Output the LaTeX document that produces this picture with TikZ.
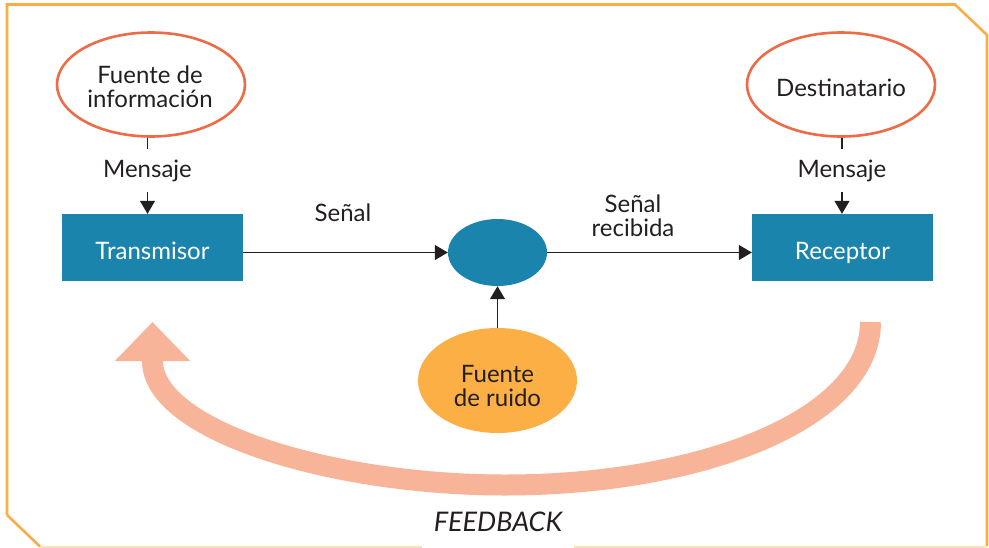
\documentclass[tikz,border=0pt]{standalone}
\usepackage{fontspec}
\setmainfont{Lato}
\usetikzlibrary{shapes.geometric,arrows.meta}
\definecolor{boxblue}{HTML}{1B84AD}
\definecolor{ellred}{HTML}{EE6B47}
\definecolor{noiseor}{HTML}{FBAF45}
\definecolor{fbcol}{HTML}{F8B498}
\definecolor{bord}{HTML}{FBAE45}
\definecolor{bordlight}{HTML}{FDE2B5}
\definecolor{txt}{HTML}{231F20}
\begin{document}
\begin{tikzpicture}[x=1pt,y=-1pt,
  txtfont/.style={font=\fontsize{24}{24.4}\selectfont},
  srcell/.style={ellipse,draw=ellred,line width=2.6pt,fill=white,minimum width=188pt,minimum height=104pt,inner sep=0pt},
  bluebox/.style={rectangle,fill=boxblue,minimum width=181pt,minimum height=67pt,inner sep=0pt,text=white,txtfont,text height=23pt,text depth=0pt},
  msg/.style={anchor=base,inner sep=10pt,text=txt,txtfont},
  lbl/.style={text=txt,txtfont,align=center,inner sep=0pt},
  conn/.style={draw=txt,line width=1.3pt},
  arr/.style={conn,-{Triangle[width=15pt,length=13pt]}},
  fb/.style={draw=fbcol,line width=21pt,-{Triangle[width=73pt,length=39pt]}}
]
\useasboundingbox (0,0) rectangle (989,547);
% border
\draw[bord,line width=2.6pt,line join=miter] (7,515) -- (7,4.5) -- (955,4.5) -- (987,35) -- (987,546);
\draw[bord,line width=2.6pt] (7,515) -- (40,546.5);
\draw[bordlight,line width=2pt] (40,546.5) -- (422,546.5);
\draw[bordlight,line width=2pt] (574,546.5) -- (987,546.5);

% nodes
\node[srcell] (src) at (151,84.5) {};
\node[lbl] (srct) at (150,86.8) {Fuente de\\información};
\node[srcell] (dst) at (841,84.5) {};
\node[lbl,anchor=base] (dstt) at (841,96.7) {Destinatario};
\node[msg] (msg1) at (147.5,177) {Mensaje};
\node[msg] (msg2) at (842,177) {Mensaje};
\node[bluebox] (tx) at (152.5,247.5) {Transmisor};
\node[bluebox] (rx) at (842.5,247.5) {Receptor};
\node[ellipse,fill=boxblue,minimum width=99pt,minimum height=67pt,inner sep=0pt] (ch) at (497.5,252.5) {};
\node[ellipse,fill=noiseor,minimum width=159pt,minimum height=105pt,inner sep=0pt] (noise) at (497.5,380.5) {};
\node[lbl] (noiset) at (497.5,386.2) {Fuente\\de ruido};

% connectors
\draw[conn] (src.south -| msg1.north) -- (msg1.north);
\draw[arr] (msg1.south) -- (msg1.south |- tx.north);
\draw[conn] (dst.south -| msg2.north) -- (msg2.north);
\draw[arr] (msg2.south) -- (msg2.south |- rx.north);
\draw[arr] (tx.east |- ch.west) -- (ch.west);
\draw[arr] (ch.east) -- (rx.west |- ch.east);
\draw[arr] (noise.north) -- (ch.south);

\node[lbl] (l1) at (343,213) {Señal};
\node[lbl] (l2) at (633,216) {Señal\\recibida};

% feedback
\coordinate (fbs) at (870.5,322);
\coordinate (fbm) at (505,485);
\coordinate (fbe) at (152.5,322);
\draw[fb] (fbs) .. controls (870.5,420) and (700,485) .. (fbm)
  .. controls (330,485) and (152.5,430) .. (152.5,361) -- (fbe);
\node[lbl,font=\fontsize{27}{28}\selectfont\itshape] (fbl) at (498,522) {FEEDBACK};
\end{tikzpicture}
\end{document}
